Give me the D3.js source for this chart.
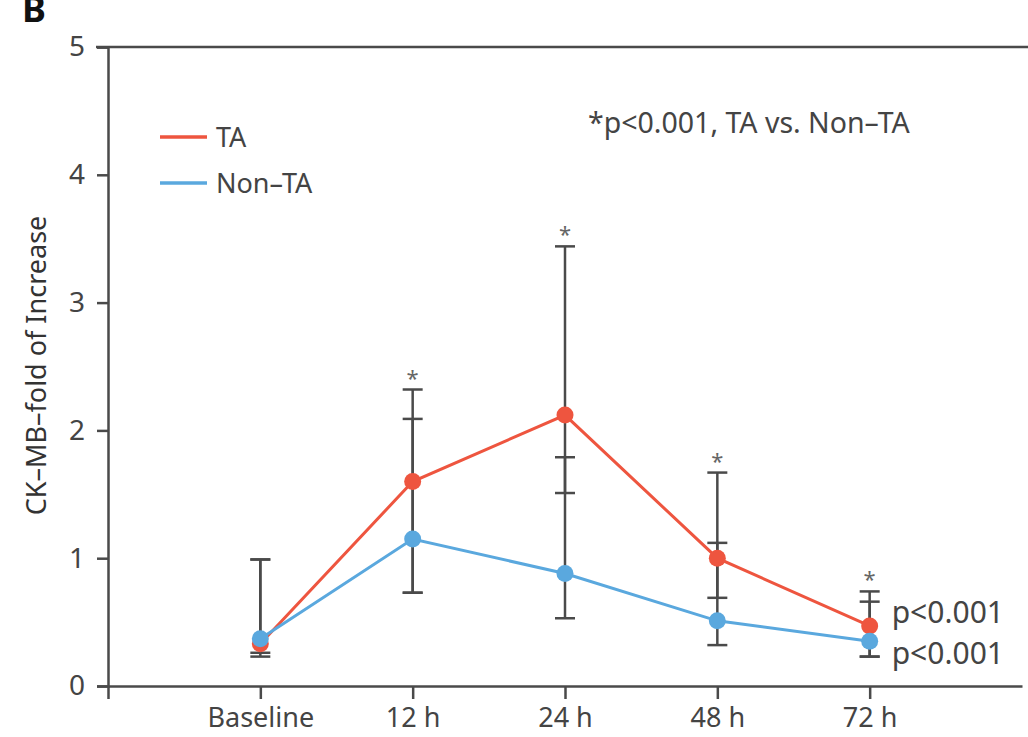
<!DOCTYPE html>
<html><head><meta charset="utf-8">
<script src="https://cdn.jsdelivr.net/npm/d3@7"></script>
<style>body{margin:0;background:#fff}svg{display:block}text{font-family:"Noto Sans","Open Sans",sans-serif}</style>
</head><body><svg id="c" width="1028" height="737"></svg>
<script>
const categories = ["Baseline","12 h","24 h","48 h","72 h"];
const taValues    = [0.33, 1.60, 2.12, 1.00, 0.47];
const taLow       = [0.26, 0.73, 1.51, 0.69, 0.23];
const taHigh      = [0.99, 2.32, 3.44, 1.67, 0.74];
const nonTaValues = [0.37, 1.15, 0.88, 0.51, 0.35];
const nonTaLow    = [0.23, 0.73, 0.53, 0.32, 0.23];
const nonTaHigh   = [0.99, 2.09, 1.79, 1.12, 0.66];
const starFlags   = [false, true, true, true, true];
const yTicks = [0,1,2,3,4,5];

const svg = d3.select("#c");
const axisColor = "#4a4a4a", red = "#ee553f", blue = "#5aa8de";
const x = d3.scaleLinear().domain([-1, 5]).range([108, 1022]);
const y = d3.scaleLinear().domain([0, 5]).range([686, 47]);

// B label (partly above the top edge, as in the source figure)
svg.append("text").attr("x", 22).attr("y", 22).attr("font-size", 36).attr("font-weight", "bold").attr("fill", "#111").text("B");

// top border line
svg.append("line").attr("x1", 96).attr("x2", 1028).attr("y1", y(5)).attr("y2", y(5)).attr("stroke", axisColor).attr("stroke-width", 2.5);

// y axis
const ya = svg.append("g").attr("transform", `translate(${x(-1)},0)`)
  .call(d3.axisLeft(y).tickValues(yTicks).tickFormat(d3.format("d")).tickSize(11).tickPadding(12));
ya.select(".domain").attr("stroke", axisColor).attr("stroke-width", 2.5);
ya.selectAll(".tick line").attr("stroke", axisColor).attr("stroke-width", 2.5);
ya.selectAll(".tick text").attr("font-size", 28).attr("fill", "#444");

// x axis
const xa = svg.append("g").attr("transform", `translate(0,${y(0)})`)
  .call(d3.axisBottom(x).tickValues([-1,0,1,2,3,4]).tickFormat(d => d < 0 ? "" : categories[d]).tickSize(13).tickSizeOuter(0).tickPadding(9));
xa.select(".domain").attr("stroke", axisColor).attr("stroke-width", 2.5);
xa.selectAll(".tick line").attr("stroke", axisColor).attr("stroke-width", 2.5);
xa.selectAll(".tick text").attr("font-size", 27).attr("fill", "#444");

// y label
svg.append("text").attr("transform", `translate(46,${y(2.5) - 1}) rotate(-90)`).attr("text-anchor", "middle")
  .attr("font-size", 27).attr("fill", "#333").text("CK–MB–fold of Increase");

// error bars
function errBars(lo, hi) {
  const g = svg.append("g").attr("stroke", axisColor).attr("stroke-width", 2.5);
  categories.forEach((c, i) => {
    g.append("line").attr("x1", x(i)).attr("x2", x(i)).attr("y1", y(lo[i])).attr("y2", y(hi[i]));
    [lo[i], hi[i]].forEach(v => g.append("line").attr("x1", x(i) - 10).attr("x2", x(i) + 10).attr("y1", y(v)).attr("y2", y(v)));
  });
}
errBars(taLow, taHigh);
errBars(nonTaLow, nonTaHigh);

// lines & points
const line = d3.line().x((d, i) => x(i)).y(d => y(d));
function series(vals, col) {
  svg.append("path").datum(vals).attr("d", line).attr("fill", "none").attr("stroke", col).attr("stroke-width", 3);
  svg.append("g").selectAll("circle").data(vals).join("circle")
    .attr("cx", (d, i) => x(i)).attr("cy", d => y(d)).attr("r", 8.5).attr("fill", col);
}
series(taValues, red);
series(nonTaValues, blue);

// asterisks
categories.forEach((c, i) => {
  if (!starFlags[i]) return;
  const top = Math.max(taHigh[i], nonTaHigh[i]);
  svg.append("text").attr("x", x(i)).attr("y", y(top) - 4).attr("text-anchor", "middle")
    .attr("font-size", 22).attr("fill", "#666").text("*");
});

// legend
const legend = [{name: "TA", col: red}, {name: "Non–TA", col: blue}];
legend.forEach((l, i) => {
  const ly = 137 + i * 46;
  svg.append("line").attr("x1", 160).attr("x2", 207).attr("y1", ly).attr("y2", ly).attr("stroke", l.col).attr("stroke-width", 3.5);
  svg.append("text").attr("x", 216).attr("y", ly + 10).attr("font-size", 27).attr("fill", "#444").text(l.name);
});

// annotation
svg.append("text").attr("x", 588).attr("y", 133).attr("font-size", 28.5).attr("fill", "#444").text("*p<0.001, TA vs. Non–TA");

// p labels at 72 h
svg.append("text").attr("x", x(4) + 22).attr("y", 623).attr("font-size", 30).attr("fill", "#444").text("p<0.001");
svg.append("text").attr("x", x(4) + 22).attr("y", 664).attr("font-size", 30).attr("fill", "#444").text("p<0.001");
</script></body></html>
